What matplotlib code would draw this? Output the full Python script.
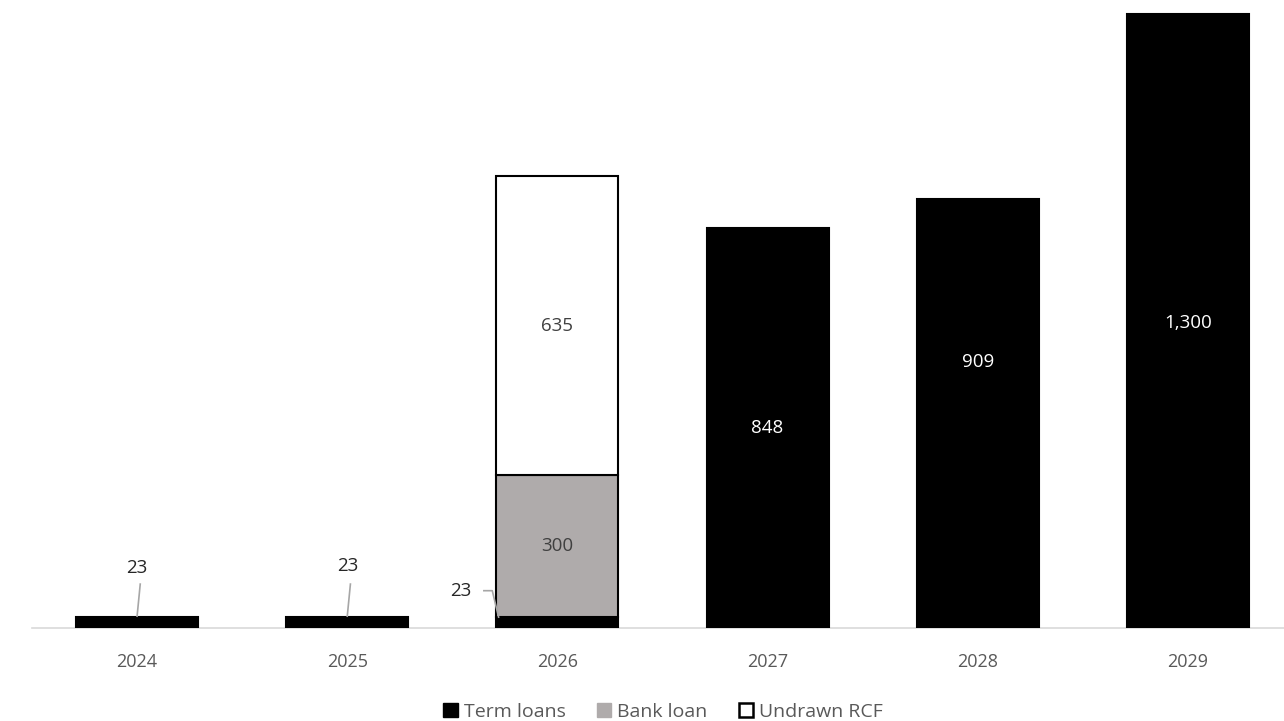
import matplotlib
matplotlib.use("Agg")
import matplotlib.pyplot as plt
from matplotlib.patches import Patch

years = ["2024", "2025", "2026", "2027", "2028", "2029"]
term_loans = [23, 23, 23, 848, 909, 1300]
bank_loan = [0, 0, 300, 0, 0, 0]
undrawn_rcf = [0, 0, 635, 0, 0, 0]

plt.rcParams['font.family'] = ['Open Sans', 'DejaVu Sans']

W, H = 1284, 721
fig = plt.figure(figsize=(W / 100, H / 100), dpi=100)
ax = fig.add_axes([32 / W, 93 / H, 1 - 32 / W, 628 / H])

x = list(range(len(years)))
bw = 0.58
ax.bar(x, term_loans, width=bw, color="black", edgecolor="black", linewidth=1.5, zorder=3)
ax.bar(x[2], bank_loan[2], bottom=term_loans[2], width=bw, color="#AFABAB",
       edgecolor="black", linewidth=1.5, zorder=3)
ax.bar(x[2], undrawn_rcf[2], bottom=term_loans[2] + bank_loan[2], width=bw, color="white",
       edgecolor="black", linewidth=1.5, zorder=3)

ax.set_xlim(-0.5, 5.457)
ax.set_ylim(0, 1330)
for s in ["top", "right", "left"]:
    ax.spines[s].set_visible(False)
ax.spines["bottom"].set_color("#D9D9D9")
ax.spines["bottom"].set_linewidth(1.2)
ax.set_yticks([])
ax.set_xticks(x)
ax.set_xticklabels(years, color="#595959", fontsize=13)
ax.tick_params(axis="x", length=0, pad=18)

lblkw = dict(ha="center", va="center", fontsize=13.5)
# small term loan labels with leader lines
for i in (0, 1):
    ax.text(x[i], term_loans[i] + 104 + (4 if i == 1 else 0), f"{term_loans[i]:,}", color="#262626", **lblkw)
    ax.plot([x[i] + 0.015, x[i]], [term_loans[i] + 70, term_loans[i] + 2], color="#A6A6A6", lw=1.2, zorder=4)
ax.text(x[2] - 0.46, 78, f"{term_loans[2]:,}", color="#262626", **lblkw)
ax.plot([x[2] - 0.35, x[2] - 0.31, x[2] - 0.28], [79, 79, term_loans[2]], color="#A6A6A6", lw=1.2, zorder=4)

ax.text(x[2], term_loans[2] + bank_loan[2] / 2, f"{bank_loan[2]:,}", color="#404040", zorder=5, **lblkw)
ax.text(x[2], term_loans[2] + bank_loan[2] + undrawn_rcf[2] / 2, f"{undrawn_rcf[2]:,}", color="#404040", zorder=5, **lblkw)
label_y_frac = {3: 0.5, 4: 0.62, 5: 0.497}
for i, f in label_y_frac.items():
    ax.text(x[i], term_loans[i] * f, f"{term_loans[i]:,}", color="white", zorder=5, **lblkw)

handles = [Patch(facecolor="black", edgecolor="black", label="Term loans"),
           Patch(facecolor="#AFABAB", edgecolor="#AFABAB", label="Bank loan"),
           Patch(facecolor="white", edgecolor="black", linewidth=1.8, label="Undrawn RCF")]
leg = fig.legend(handles=handles, loc="center", bbox_to_anchor=(663 / W, 1 - 712 / H), ncol=3,
                 frameon=False, fontsize=14, handlelength=0.75, handleheight=0.75,
                 handletextpad=0.3, columnspacing=1.6)
for t in leg.get_texts():
    t.set_color("#595959")

fig.savefig("out.png", dpi=100)
